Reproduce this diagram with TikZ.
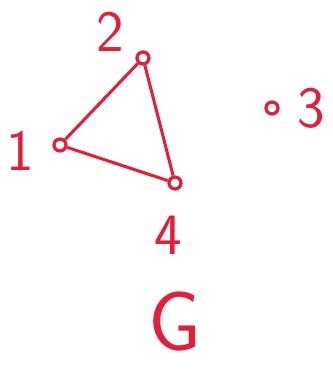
\documentclass[tikz,border=0pt]{standalone}
\usepackage{xcolor}
\usepackage{tikz}
\usetikzlibrary{positioning}

\definecolor{penred}{RGB}{228,30,58}

\begin{document}
\begin{tikzpicture}[
    x=0.03cm, y=-0.03cm,
    vertex/.style={
        circle,
        draw=penred,
        line width=2.8pt,
        minimum size=0.36cm,
        inner sep=0pt
    },
    edge/.style={draw=penred, line width=2.6pt},
    numlabel/.style={
        text=penred,
        font=\sffamily\fontsize{50}{54}\selectfont,
        inner sep=0pt
    },
    graphname/.style={
        text=penred,
        font=\sffamily\fontsize{72}{76}\selectfont,
        inner sep=0pt
    }
]
\useasboundingbox (0,0) rectangle (332,372);

% vertices
\node[vertex] (v1) at (60,145) {};
\node[vertex] (v2) at (143,58) {};
\node[vertex] (v3) at (272,108) {};
\node[vertex] (v4) at (175,183) {};

% vertex labels
\node[numlabel] (l1) at (20,151) {1};
\node[numlabel] (l2) at (110,32) {2};
\node[numlabel] (l3) at (311,108) {3};
\node[numlabel] (l4) at (168,235) {4};

% edges of the triangle
\draw[edge] (v1) -- (v2);
\draw[edge] (v2) -- (v4);
\draw[edge] (v1) -- (v4);

\node[graphname] (gname) at (175,322) {G};

\end{tikzpicture}
\end{document}
